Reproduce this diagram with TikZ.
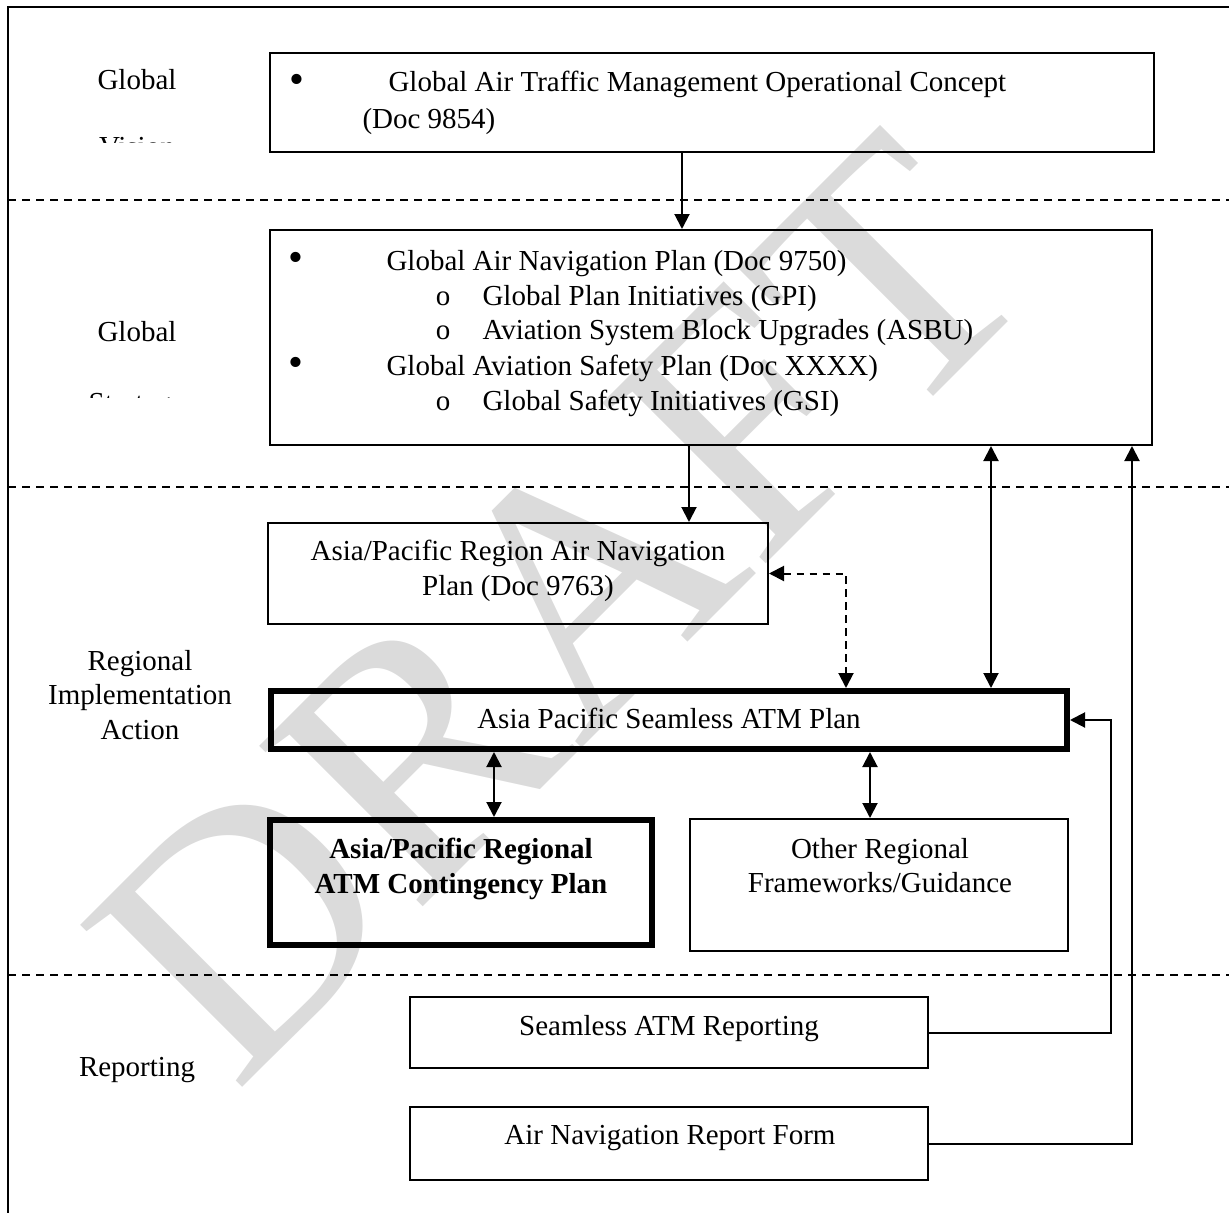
\documentclass[tikz,border=0pt]{standalone}
\usepackage{fontspec}
\setmainfont{Liberation Serif}
\usetikzlibrary{arrows.meta, fit, positioning}

\begin{document}
\begin{tikzpicture}[x=0.4pt, y=-0.4pt,
    every node/.style={font=\fontsize{11.6}{14}\selectfont, inner sep=0pt},
    panel/.style={draw, line width=0.8pt, inner sep=0pt},
    heavy/.style={draw, line width=2.4pt, inner sep=0pt},
    divider/.style={line width=0.6pt, dash pattern=on 3.2pt off 2.4pt},
    arr/.style={line width=0.8pt, -{Triangle[length=6pt, width=6pt]}},
    darr/.style={line width=0.8pt, {Triangle[length=6pt, width=6pt]}-{Triangle[length=6pt, width=6pt]}},
    bul/.style={anchor=base, font=\fontsize{17}{17}\selectfont},
    wmark/.style={font=\fontsize{140}{140}\selectfont, text=black!14, rotate=45, anchor=base west}
]
\useasboundingbox (0,0) rectangle (1229,1213);
\clip (0,0) rectangle (1229,1213);

% watermark
\node[wmark] (draft) at (235,1095) {DRAFT};

% frame and rows
\draw[line width=0.8pt] (8,1240) -- (8,7) -- (1240,7);
\draw[divider] (8,200) -- (1229,200);
\draw[divider] (8,487) -- (1229,487);
\draw[divider] (8,975) -- (1229,975);

% row labels
\node[anchor=base] (lglob1) at (137,90) {Global};
\begin{scope}
    \clip (20,100) rectangle (260,142);
    \node[anchor=base] (lvision) at (137,156) {Vision};
\end{scope}
\node[anchor=base] (lglob2) at (137,341) {Global};
\begin{scope}
    \clip (20,350) rectangle (260,397);
    \node[anchor=base] (lstrat) at (137,412) {Strategy};
\end{scope}
\node[anchor=base] (lreg1) at (140,670) {Regional};
\node[anchor=base] (lreg2) at (140,704) {Implementation};
\node[anchor=base] (lreg3) at (140,739) {Action};
\node[anchor=base] (lrep) at (137,1076) {Reporting};

% boxes
\node[panel, fit={(270,53) (1154,152)}] (vision) {};
\node[panel, fit={(270,230) (1152,445)}] (strat) {};
\node[panel, fit={(268,523) (768,624)}] (anp) {};
\node[heavy, fit={(271,691) (1067,749)}] (seam) {};
\node[heavy, fit={(270,820) (652,945)}] (cont) {};
\node[panel, fit={(690,819) (1068,951)}] (other) {};
\node[panel, fit={(410,997) (928,1068)}] (srep) {};
\node[panel, fit={(410,1107) (928,1180)}] (form) {};

% box texts
\node[bul] (vbul) at (297,93) {•};
\node[anchor=base west] (vtxt1) at (388,92) {Global Air Traffic Management Operational Concept};
\node[anchor=base west] (vtxt2) at (362,128) {(Doc 9854)};

\node[bul] (sbul1) at (296,271) {•};
\node[anchor=base west] (stxt1) at (386,270) {Global Air Navigation Plan (Doc 9750)};
\node[anchor=base] (ssub1) at (443,305) {o};
\node[anchor=base west] (stxt2) at (482,305) {Global Plan Initiatives (GPI)};
\node[anchor=base] (ssub2) at (443,339) {o};
\node[anchor=base west] (stxt3) at (482,339) {Aviation System Block Upgrades (ASBU)};
\node[bul] (sbul2) at (296,376) {•};
\node[anchor=base west] (stxt4) at (386,375) {Global Aviation Safety Plan (Doc XXXX)};
\node[anchor=base] (ssub3) at (443,410) {o};
\node[anchor=base west] (stxt5) at (482,410) {Global Safety Initiatives (GSI)};

\node[anchor=base] (atxt1) at (518,560) {Asia/Pacific Region Air Navigation};
\node[anchor=base] (atxt2) at (518,595) {Plan (Doc 9763)};
\node[anchor=base] (mtxt) at (669,728) {Asia Pacific Seamless ATM Plan};
\node[anchor=base, font=\fontsize{11.6}{14}\selectfont\bfseries] (ctxt1) at (461,858) {Asia/Pacific Regional};
\node[anchor=base, font=\fontsize{11.6}{14}\selectfont\bfseries] (ctxt2) at (461,893) {ATM Contingency Plan};
\node[anchor=base] (otxt1) at (880,858) {Other Regional};
\node[anchor=base] (otxt2) at (880,892) {Frameworks/Guidance};
\node[anchor=base] (rtxt) at (669,1035) {Seamless ATM Reporting};
\node[anchor=base] (ftxt) at (670,1144) {Air Navigation Report Form};

% connectors
\coordinate (xa) at (682,0);
\coordinate (xb) at (689,0);
\coordinate (xc) at (846,0);
\coordinate (xd) at (991,0);
\coordinate (xe) at (1111,0);
\coordinate (xf) at (1132,0);
\coordinate (xg) at (494,0);
\coordinate (xh) at (870,0);
\draw[arr] (vision.south -| xa) -- (strat.north -| xa);
\draw[arr] (strat.south -| xb) -- (anp.north -| xb);
\draw[darr, dash pattern=on 3pt off 2.2pt] (anp.east) -| (seam.north -| xc);
\draw[darr] (strat.south -| xd) -- (seam.north -| xd);
\draw[arr] (srep.east) -| (xe |- seam.east) -- (seam.east);
\draw[arr] (form.east) -| (strat.south -| xf);
\draw[darr] (seam.south -| xg) -- (cont.north -| xg);
\draw[darr] (seam.south -| xh) -- (other.north -| xh);
\end{tikzpicture}
\end{document}
